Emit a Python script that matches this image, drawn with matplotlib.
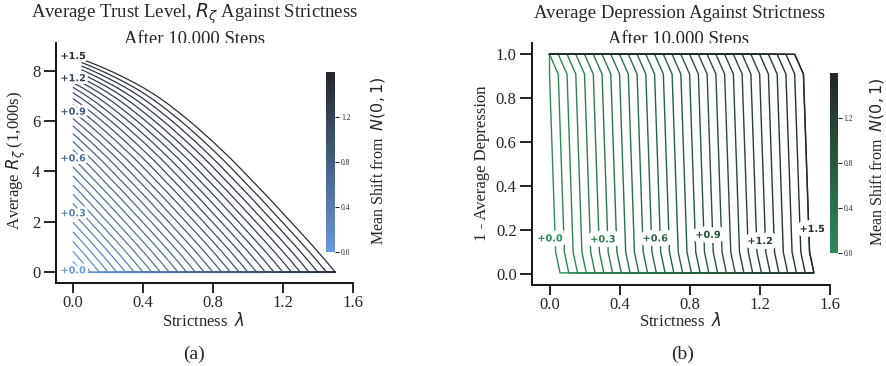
import numpy as np
import matplotlib
matplotlib.use("Agg")
import matplotlib.pyplot as plt
import matplotlib.patheffects as pe
from matplotlib.colors import Normalize
from matplotlib.cm import ScalarMappable
from matplotlib.transforms import Bbox, TransformedBbox
import seaborn as sns

# mean shift of each run (one line per shift)
shifts = [0.00, 0.05, 0.10, 0.15, 0.20, 0.25, 0.30, 0.35, 0.40, 0.45, 0.50,
          0.55, 0.60, 0.65, 0.70, 0.75, 0.80, 0.85, 0.90, 0.95, 1.00,
          1.05, 1.10, 1.15, 1.20, 1.25, 1.30, 1.35, 1.40, 1.45, 1.50]
# strictness grid
lam = [0.00, 0.05, 0.10, 0.15, 0.20, 0.25, 0.30, 0.35, 0.40, 0.45, 0.50,
       0.55, 0.60, 0.65, 0.70, 0.75, 0.80, 0.85, 0.90, 0.95, 1.00,
       1.05, 1.10, 1.15, 1.20, 1.25, 1.30, 1.35, 1.40, 1.45, 1.50]

# (a) average trust (1,000s) against gap (shift - strictness)
trust_by_gap = [0.00, 0.42, 0.82, 1.21, 1.59, 1.97, 2.34, 2.72, 3.09, 3.45, 3.81,
                4.17, 4.52, 4.85, 5.18, 5.49, 5.80, 6.09, 6.37, 6.64, 6.89,
                7.12, 7.33, 7.52, 7.70, 7.87, 8.03, 8.18, 8.32, 8.45, 8.58]
trust_first_valid = 1.25  # runs with this shift or more have no point at strictness 0

# (b) 1 - average depression: strictness where each run starts to drop
depr_onset = [-0.05, 0.00, 0.05, 0.10, 0.15, 0.20, 0.25, 0.30, 0.35, 0.40, 0.45,
              0.50, 0.55, 0.60, 0.65, 0.70, 0.75, 0.80, 0.85, 0.90, 0.95,
              1.00, 1.05, 1.10, 1.15, 1.20, 1.25, 1.30, 1.35, 1.40, 1.40]
drop_dx = [0.00, 0.05, 0.085, 0.11]
drop_y = [1.00, 0.91, 0.10, 0.005]

labelled = [0.0, 0.3, 0.6, 0.9, 1.2, 1.5]
depr_label_x = [0.003, 0.305, 0.604, 0.905, 1.203, 1.50]
depr_label_y = [0.162, 0.158, 0.162, 0.178, 0.150, 0.205]

sns.set_style("ticks")
plt.rcParams["font.family"] = ["Liberation Serif", "DejaVu Serif"]
plt.rcParams["mathtext.fontset"] = "dejavusans"

W, H = 886, 366
fig = plt.figure(figsize=(W / 100, H / 100), dpi=100)


def px_axes(x0, y0, x1, y1):
    return fig.add_axes([x0 / W, 1 - y1 / H, (x1 - x0) / W, (y1 - y0) / H])


norm = Normalize(0, 1.6)
cmap1 = sns.dark_palette("#69d", reverse=True, as_cmap=True)
cmap2 = sns.dark_palette("seagreen", reverse=True, as_cmap=True)

ax1 = px_axes(55.7, 42.7, 352.7, 283.3)
ax2 = px_axes(532, 43.3, 829.7, 285)

# ---- (a) trust
lam_arr = np.array(lam)
for k, s in enumerate(shifts):
    y = np.array([trust_by_gap[k - j] if k >= j else 0.0 for j in range(len(lam))])
    x = lam_arr
    if s >= trust_first_valid:
        x, y = x[1:], y[1:]
    ax1.plot(x, y, color=cmap1(norm(s)), lw=0.9)

for s in labelled:
    k = shifts.index(s)
    yv = trust_by_gap[k] if s > 0 else 0.07
    ax1.text(0.0, yv, "+%.1f" % s, color=cmap1(norm(s)), fontsize=7,
             fontweight="bold", family="DejaVu Sans", ha="center", va="center",
             path_effects=[pe.withStroke(linewidth=4, foreground="white")], zorder=5)

ax1.set_xlim(-0.1, 1.6)
ax1.set_ylim(-0.44, 9.11)
ax1.set_xticks([0, 0.4, 0.8, 1.2, 1.6])
ax1.set_yticks([0, 2, 4, 6, 8])
ax1.set_xticklabels(["0.0", "0.4", "0.8", "1.2", "1.6"])

# ---- (b) depression
for k, s in enumerate(shifts):
    o = depr_onset[k]
    xs = [0.0, o] + [o + d for d in drop_dx[1:]] + [1.5]
    ys = [1.0, 1.0] + drop_y[1:] + [drop_y[-1]]
    pts = [(a, b) for a, b in zip(xs, ys) if a >= 0]
    ax2.plot([p[0] for p in pts], [p[1] for p in pts], color=cmap2(norm(s)), lw=1.0)

for s, lx, ly in zip(labelled, depr_label_x, depr_label_y):
    ax2.text(lx, ly, "+%.1f" % s, color=cmap2(norm(s)), fontsize=7,
             fontweight="bold", family="DejaVu Sans", ha="center", va="center",
             path_effects=[pe.withStroke(linewidth=7, foreground="white")], zorder=5)

ax2.set_xlim(-0.1, 1.6)
ax2.set_ylim(-0.05, 1.05)
ax2.set_xticks([0, 0.4, 0.8, 1.2, 1.6])
ax2.set_xticklabels(["0.0", "0.4", "0.8", "1.2", "1.6"])
ax2.set_yticks([0, 0.2, 0.4, 0.6, 0.8, 1.0])
ax2.set_yticklabels(["0.0", "0.2", "0.4", "0.6", "0.8", "1.0"])

for ax in (ax1, ax2):
    sns.despine(ax=ax)
    for sp in ("left", "bottom"):
        ax.spines[sp].set_linewidth(1.3)
        ax.spines[sp].set_color("black")
    ax.tick_params(width=1.2, labelsize=12, color="black")
    ax.tick_params(axis="y", length=9, pad=2)
    ax.tick_params(axis="x", length=7.5, pad=1)

# ---- colorbars
for box, cmap in (((326.3, 71.7, 335.3, 252.3), cmap1), ((829.7, 73.3, 837.7, 253.3), cmap2)):
    cax = px_axes(*box)
    cb = fig.colorbar(ScalarMappable(norm=norm, cmap=cmap), cax=cax)
    cb.outline.set_visible(False)
    cb.set_ticks([0, 0.4, 0.8, 1.2])
    cb.set_ticklabels(["0.0", "0.4", "0.8", "1.2"])
    cax.tick_params(labelsize=5.5, length=3, width=0.8, pad=1)

# ---- text around the panels (second title line is cut by the panel top)
clip = TransformedBbox(Bbox.from_extents(0, 1 - 42.7 / H, 1, 1), fig.transFigure)
titles = [(194.5, "Average Trust Level, $R_\\zeta$ Against Strictness"),
          (679, "Average Depression Against Strictness")]
for xc, txt in titles:
    fig.text(xc / W, 1 - 17.5 / H, txt, ha="center", va="baseline", fontsize=13.5)
    t = fig.text(xc / W, 1 - 43.5 / H, "After 10,000 Steps", ha="center",
                 va="baseline", fontsize=13.5)
    t.set_clip_box(clip)
    t.set_clip_on(True)

fig.text(204 / W, 1 - 321 / H, "Strictness  $\\lambda$", ha="center", va="center", fontsize=12)
fig.text(680.5 / W, 1 - 321 / H, "Strictness  $\\lambda$", ha="center", va="center", fontsize=12)
fig.text(16.5 / W, 1 - 160 / H, "Average $R_\\zeta$ (1,000s)", rotation=90,
         ha="center", va="center", fontsize=12)
fig.text(482 / W, 1 - 163 / H, "1 - Average Depression", rotation=90,
         ha="center", va="center", fontsize=12)
fig.text(378 / W, 1 - 161 / H, "Mean Shift from  $N(0, 1)$", rotation=90,
         ha="center", va="center", fontsize=11.5)
fig.text(877 / W, 1 - 161.5 / H, "Mean Shift from  $N(0, 1)$", rotation=90,
         ha="center", va="center", fontsize=11.5)
fig.text(194 / W, 1 - 354 / H, "(a)", ha="center", va="center", fontsize=14)
fig.text(683 / W, 1 - 354 / H, "(b)", ha="center", va="center", fontsize=14)

fig.savefig("out.png", dpi=100)
